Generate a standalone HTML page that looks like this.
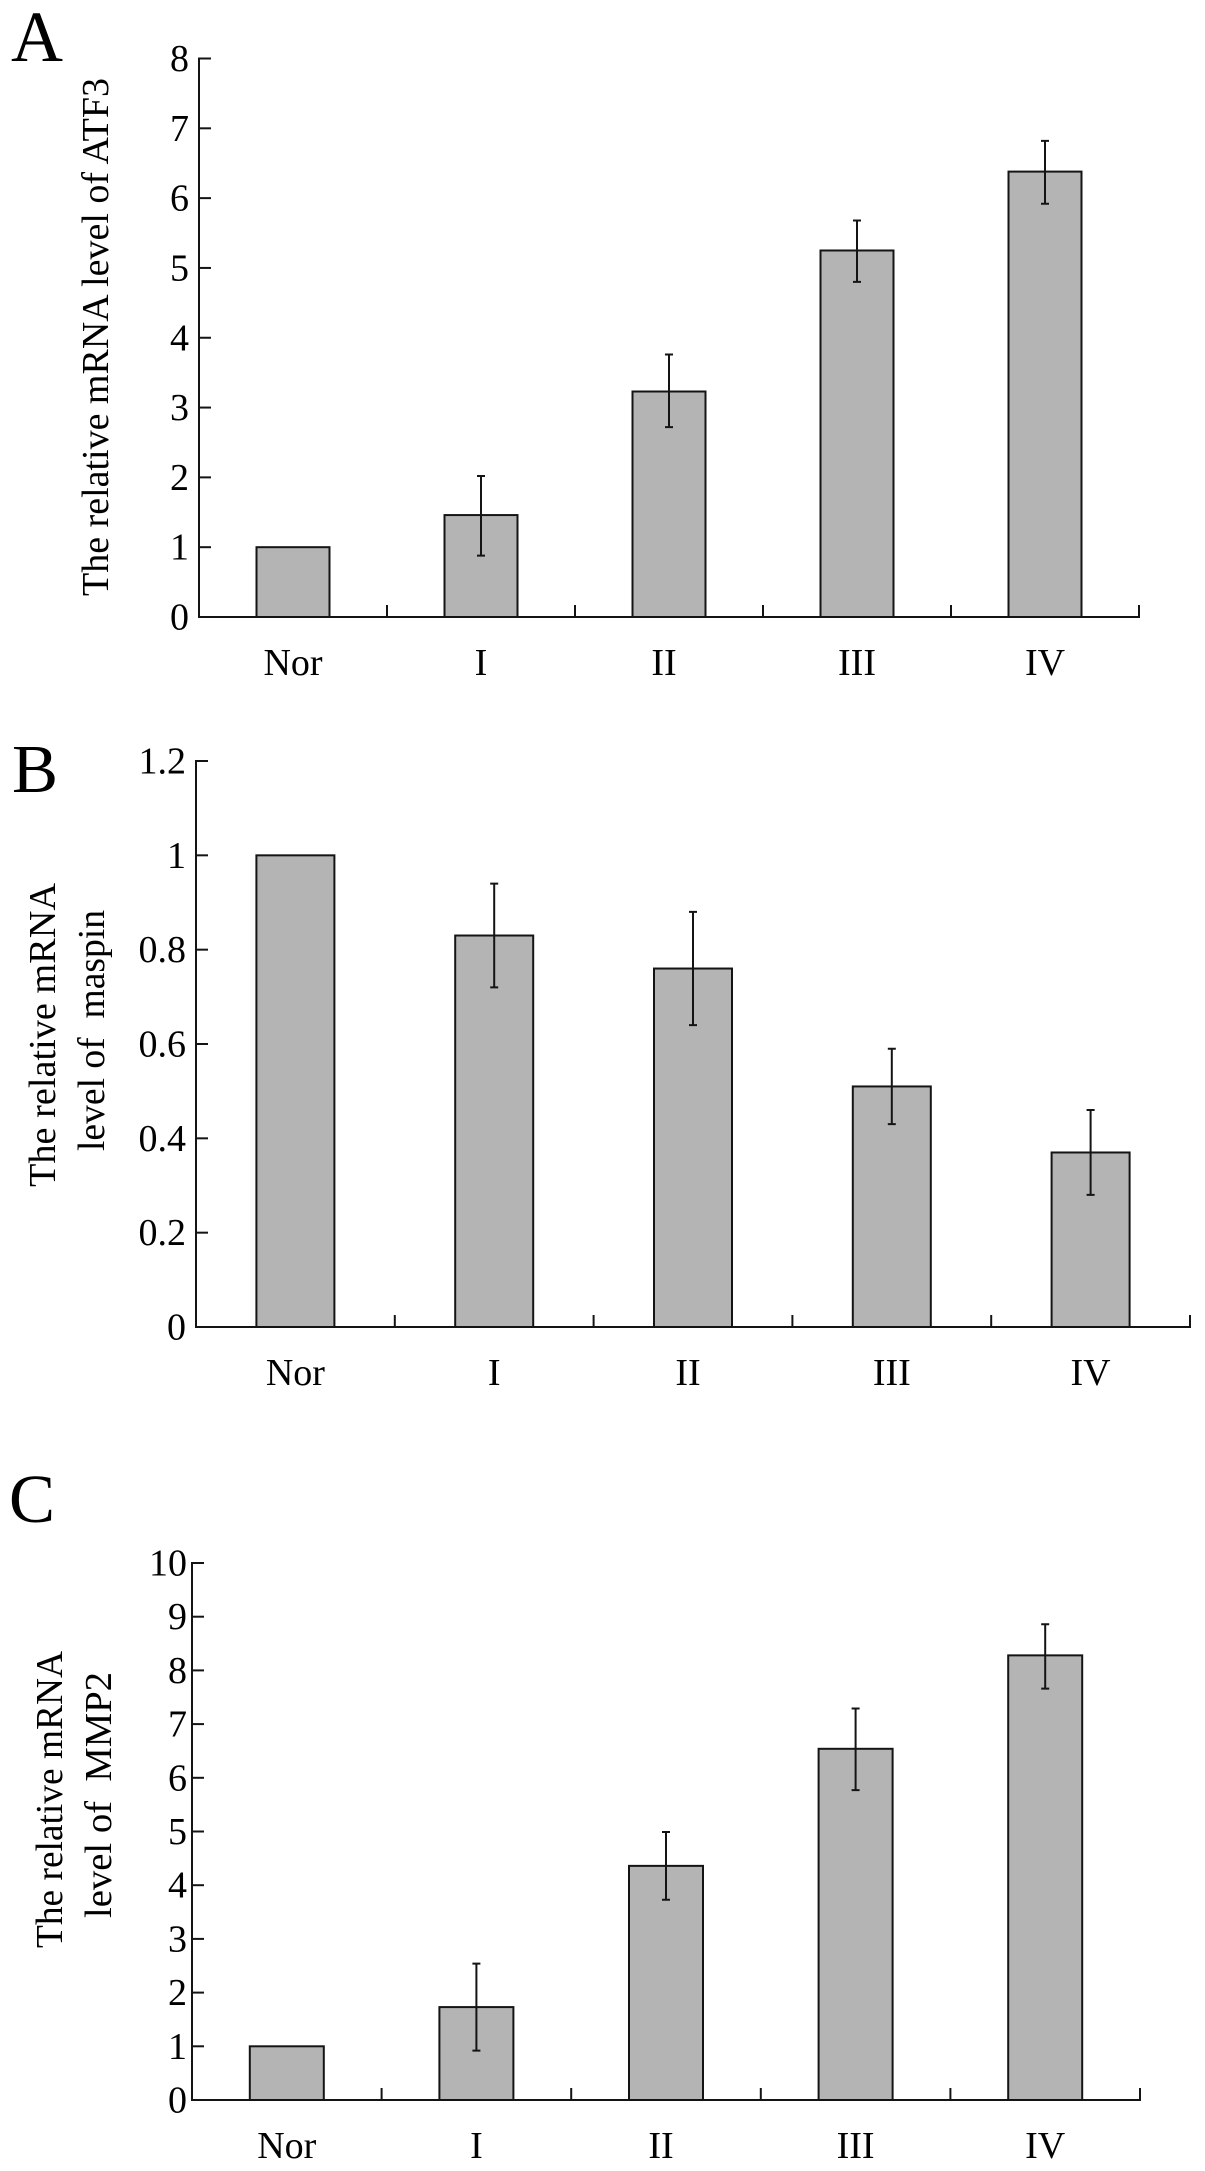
<!DOCTYPE html>
<html lang="en">
<head>
<meta charset="utf-8">
<title>Relative mRNA levels of ATF3, maspin and MMP2</title>
<style>
html,body{margin:0;padding:0;background:#fff;}
body{width:1205px;height:2171px;overflow:hidden;}
svg{display:block;}
text{font-family:"Liberation Serif",serif;fill:#000;}
</style>
</head>
<body>
<svg id="figure" xmlns="http://www.w3.org/2000/svg" width="1205" height="2171" viewBox="0 0 1205 2171">
  <rect x="0" y="0" width="1205" height="2171" fill="#fff"/>
  <text x="11" y="61" font-size="72">A</text>
  <text x="12" y="792" font-size="69">B</text>
  <text x="9" y="1522" font-size="69">C</text>

  <text transform="translate(108,596) rotate(-90)" font-size="38" textLength="518" lengthAdjust="spacingAndGlyphs">The relative mRNA level of ATF3</text>

  <text transform="translate(55,1187) rotate(-90)" font-size="38" textLength="304" lengthAdjust="spacingAndGlyphs">The relative mRNA</text>
  <text transform="translate(104,1151) rotate(-90)" font-size="38" textLength="241" lengthAdjust="spacingAndGlyphs" xml:space="preserve">level of  maspin</text>

  <text transform="translate(62,1948) rotate(-90)" font-size="38" textLength="297" lengthAdjust="spacingAndGlyphs">The relative mRNA</text>
  <text transform="translate(111,1918) rotate(-90)" font-size="38" textLength="246" lengthAdjust="spacingAndGlyphs" xml:space="preserve">level of  MMP2</text>
</svg>
<script>
var categories = ['Nor', 'I', 'II', 'III', 'IV'];

var ticksA = ['0', '1', '2', '3', '4', '5', '6', '7', '8'];
var valuesA = [1.0, 1.46, 3.23, 5.25, 6.38];
var errorUpperA = [null, 2.02, 3.76, 5.68, 6.82];
var errorLowerA = [null, 0.88, 2.72, 4.80, 5.92];

var ticksB = ['0', '0.2', '0.4', '0.6', '0.8', '1', '1.2'];
var valuesB = [1.0, 0.83, 0.76, 0.51, 0.37];
var errorUpperB = [null, 0.94, 0.88, 0.59, 0.46];
var errorLowerB = [null, 0.72, 0.64, 0.43, 0.28];

var ticksC = ['0', '1', '2', '3', '4', '5', '6', '7', '8', '9', '10'];
var valuesC = [1.0, 1.73, 4.36, 6.54, 8.28];
var errorUpperC = [null, 2.54, 4.99, 7.29, 8.86];
var errorLowerC = [null, 0.92, 3.73, 5.77, 7.66];

var svg = document.getElementById('figure');
var NS = 'http://www.w3.org/2000/svg';
var INK = '#141414';

function make(tag, attrs) {
  var el = document.createElementNS(NS, tag);
  for (var k in attrs) { el.setAttribute(k, attrs[k]); }
  return el;
}

function drawPanel(p) {
  var yMax = parseFloat(p.ticks[p.ticks.length - 1]);
  var band = (p.right - p.left) / p.categories.length;
  function yScale(v) { return p.bottom - (v / yMax) * (p.bottom - p.top); }
  function xCenter(i) { return p.left + band * (i + 0.5); }

  var g = make('g', {});
  
  
  svg.appendChild(g);

  p.values.forEach(function (v, i) {
    var bar = make('rect', {
      x: xCenter(i) - p.barWidth / 2 + 1,
      y: yScale(v),
      width: p.barWidth - 2,
      height: p.bottom - yScale(v),
      fill: '#b4b4b4',
      stroke: INK,
      'stroke-width': 2
    });
    
    
    g.appendChild(bar);
  });

  p.values.forEach(function (v, i) {
    if (p.upper[i] === null) { return; }
    var cx = xCenter(i);
    var yu = yScale(p.upper[i]);
    var yl = yScale(p.lower[i]);
    var d = 'M' + cx + ' ' + yu + 'V' + yl +
            'M' + (cx - 4) + ' ' + yu + 'H' + (cx + 4) +
            'M' + (cx - 4) + ' ' + yl + 'H' + (cx + 4);
    var err = make('path', { d: d, fill: 'none', stroke: INK, 'stroke-width': 2 });
    
    
    g.appendChild(err);
  });

  var yAxis = make('line', { x1: p.left, x2: p.left, y1: p.top - 1, y2: p.bottom + 1, stroke: INK, 'stroke-width': 2 });
  
  
  g.appendChild(yAxis);

  var xAxis = make('line', { x1: p.left - 1, x2: p.right + 1, y1: p.bottom, y2: p.bottom, stroke: INK, 'stroke-width': 2 });
  
  
  g.appendChild(xAxis);

  p.ticks.forEach(function (t) {
    var y = yScale(parseFloat(t));
    var tick = make('line', { x1: p.left, x2: p.left + 12, y1: y, y2: y, stroke: INK, 'stroke-width': 2 });
    
    
    g.appendChild(tick);

    var label = make('text', { x: p.left - p.labelGap, y: y + 12.5, 'text-anchor': 'end', 'font-size': 38 });
    label.textContent = t;
    
    
    g.appendChild(label);
  });

  p.categories.forEach(function (c, i) {
    var xt = p.left + band * (i + 1);
    var tick = make('line', { x1: xt, x2: xt, y1: p.bottom - 12, y2: p.bottom, stroke: INK, 'stroke-width': 2 });
    
    
    g.appendChild(tick);

    var shift = c === 'II' ? -5 : 0;
    var label = make('text', { x: xCenter(i) + shift, y: p.bottom + 58, 'text-anchor': 'middle', 'font-size': 38 });
    label.textContent = c;
    
    
    g.appendChild(label);
  });
}

drawPanel({ id: 'a', categories: categories, ticks: ticksA, values: valuesA, upper: errorUpperA, lower: errorLowerA,
  left: 199, right: 1139, top: 58.5, bottom: 617, barWidth: 75, labelGap: 10 });
drawPanel({ id: 'b', categories: categories, ticks: ticksB, values: valuesB, upper: errorUpperB, lower: errorLowerB,
  left: 196, right: 1190, top: 761, bottom: 1327, barWidth: 80, labelGap: 10 });
drawPanel({ id: 'c', categories: categories, ticks: ticksC, values: valuesC, upper: errorUpperC, lower: errorLowerC,
  left: 192, right: 1140, top: 1563, bottom: 2100, barWidth: 76, labelGap: 5 });
</script>
</body>
</html>
